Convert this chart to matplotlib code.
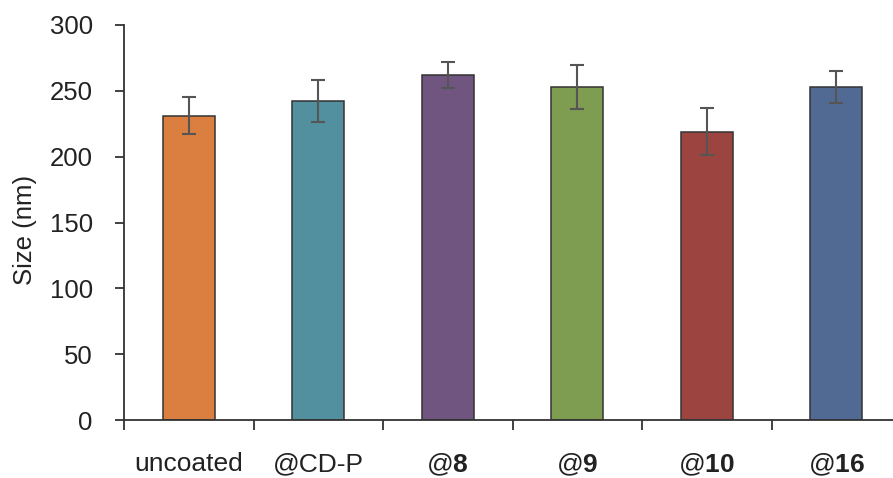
import matplotlib.pyplot as plt

# Datos
categorias = ['uncoated', '@CD-P', '@$\\mathbf{8}$', '@$\\mathbf{9}$', '@$\\mathbf{10}$', '@$\\mathbf{16}$']
tamanos = [231, 242, 262, 253, 219, 253]
errores = [14, 16, 10, 17, 18, 12]
colores = ['#DA7F40', '#5290A0', '#705580', '#7F9D50', '#9C4540', '#506A93']

plt.rcParams['font.family'] = ['Liberation Sans', 'DejaVu Sans']
plt.rcParams['mathtext.fontset'] = 'custom'
plt.rcParams['mathtext.rm'] = 'Liberation Sans'
plt.rcParams['mathtext.bf'] = 'Liberation Sans:bold'

fig = plt.figure(figsize=(8.93, 4.78), dpi=100)
ax = fig.add_axes([124 / 893, 58 / 478, 777 / 893, 395 / 478])

x = list(range(len(categorias)))
ax.bar(x, tamanos, width=0.4, color=colores, edgecolor='#333333', linewidth=1.1,
       yerr=errores, capsize=5, error_kw=dict(ecolor='#555555', elinewidth=1.5, capthick=1.5),
       zorder=2)

ax.set_xlim(-0.5, 5.5)
ax.set_ylim(0, 300)
ax.set_yticks(range(0, 301, 50))

# Etiquetas centradas y marcas en los límites de categoría
ax.set_xticks(x)
ax.set_xticklabels(categorias)
ax.set_xticks([i - 0.5 for i in range(6)], minor=True)
ax.tick_params(axis='x', which='major', length=0, pad=23, labelsize=19, colors='#222222')
ax.tick_params(axis='x', which='minor', length=7, width=1.3, color='#333333')
ax.tick_params(axis='y', length=6.5, width=1.3, pad=16, labelsize=18.5, color='#333333', labelcolor='#222222')

for s in ['top', 'right']:
    ax.spines[s].set_visible(False)
for s in ['left', 'bottom']:
    ax.spines[s].set_linewidth(1.3)
    ax.spines[s].set_color('#333333')

ax.set_ylabel('Size (nm)', fontsize=18.5, color='#222222')
ax.yaxis.set_label_coords(-0.128, 0.48)
ax.yaxis.label.set_va('center')

fig.savefig('out.png', dpi=100)
